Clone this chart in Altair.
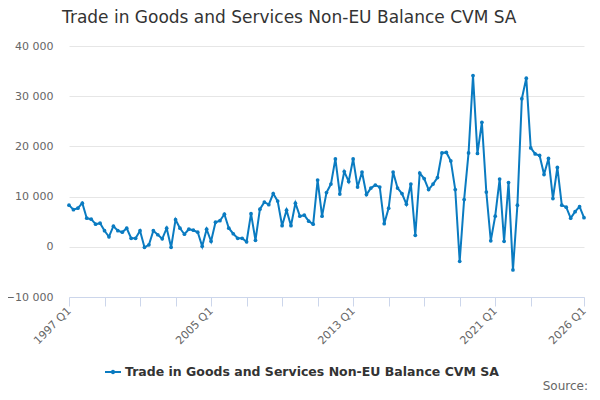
import altair as alt
import pandas as pd

series_name = "Trade in Goods and Services Non-EU Balance CVM SA"
start_year = 1997
values = [
    8300, 7400, 7700, 8700, 5700, 5500, 4500, 4700, 3200, 2000,
    4100, 3200, 2900, 3700, 1700, 1700, 3200, -100, 400, 3200,
    2400, 1600, 3700, -100, 5400, 3700, 2500, 3500, 3300, 2900,
    100, 3500, 1100, 4900, 5200, 6500, 3700, 2600, 1700, 1700,
    1000, 6600, 1300, 7500, 8900, 8400, 10600, 9100, 4200, 7300,
    4200, 8700, 6100, 6300, 5100, 4500, 13300, 6100, 10800, 12500,
    17500, 10500, 15000, 13000, 17500, 11900, 14900, 10400, 11700, 12300,
    11900, 4600, 7700, 14900, 11700, 10600, 8500, 12500, 2300, 14700,
    13600, 11400, 12500, 13800, 18700, 18800, 17100, 11400, -2900, 9400,
    18700, 34100, 18600, 24800, 10900, 1200, 6100, 13500, 1100, 12800,
    -4600, 8300, 29500, 33600, 19700, 18500, 18200, 14400, 17600, 9600,
    15800, 8300, 7900, 5700, 7000, 8000, 5800,
]
tick_positions = [0, 8, 16, 24, 32, 40, 48, 56, 64, 72, 80, 88, 96, 104, 116]
label_positions = [0, 32, 64, 96, 116]
tick_labels = ["1997 Q1", "2005 Q1", "2013 Q1", "2021 Q1", "2026 Q1"]
y_ticks = [-10000, 0, 10000, 20000, 30000, 40000]

quarters = [f"{start_year + i // 4} Q{i % 4 + 1}" for i in range(len(values))]
df = pd.DataFrame({"idx": list(range(len(values))), "quarter": quarters,
                   "value": values, "series": series_name})

label_expr = " : ".join(
    f"datum.value == {p} ? '{t}'" for p, t in zip(label_positions, tick_labels)
) + " : ''"

FONT = "DejaVu Sans"
BLUE = "#0a7bc1"

x = alt.X("idx:Q", title=None,
          scale=alt.Scale(domain=[0, len(values) - 1], nice=False, zero=False),
          axis=alt.Axis(values=tick_positions, labelExpr=label_expr, labelAngle=-45,
                        labelAlign="right", labelBaseline="middle", labelPadding=3,
                        labelColor="#666666", labelFont=FONT, labelFontSize=11,
                        domainColor="#ccd6eb", tickColor="#ccd6eb", tickSize=9,
                        grid=False, labelOverlap=False, labelFlush=False))
y = alt.Y("value:Q", title=None,
          scale=alt.Scale(domain=[-10000, 40000], nice=False),
          axis=alt.Axis(values=y_ticks,
                        labelExpr="replace(format(datum.value, ','), ',', ' ')",
                        labelColor="#666666", labelFont=FONT, labelFontSize=11,
                        labelPadding=16, domain=False, ticks=False,
                        gridColor="#e6e6e6", gridWidth=1))

line = alt.Chart(df).mark_line(color=BLUE, strokeWidth=2).encode(x=x, y=y)

legend_symbol = ("M-1,-0.12L1,-0.12L1,0.12L-1,0.12Z"
                 "M0.28,0A0.28,0.28,0,1,1,-0.28,0A0.28,0.28,0,1,1,0.28,0Z")
points = alt.Chart(df).mark_point(filled=True, size=14, opacity=1).encode(
    x=x, y=y,
    color=alt.Color("series:N", scale=alt.Scale(domain=[series_name], range=[BLUE]),
                    legend=alt.Legend(title=None, orient="none", legendX=36, legendY=318,
                                      symbolType=legend_symbol, symbolSize=256,
                                      symbolStrokeWidth=0, labelFont=FONT,
                                      labelFontSize=12.5, labelFontWeight="bold",
                                      labelColor="#333333", labelLimit=600)),
    tooltip=["quarter:N", "value:Q"],
)

source = alt.Chart(pd.DataFrame({"t": ["Source:"]})).mark_text(
    align="right", baseline="alphabetic", font=FONT, fontSize=12, color="#666666"
).encode(text="t:N", x=alt.value(519), y=alt.value(344))

chart = alt.layer(line, points, source).properties(
    width=515, height=251,
    title=alt.Title(series_name, anchor="start", frame="group", dx=-7, offset=13,
                    font=FONT, fontSize=17, fontWeight="normal", color="#333333"),
    autosize=alt.AutoSizeParams(type="none"),
    padding={"left": 61, "top": 38, "right": 8, "bottom": 95},
).configure_view(stroke=None)

chart.save("out.html", embed_options={"renderer": "svg", "actions": False})
